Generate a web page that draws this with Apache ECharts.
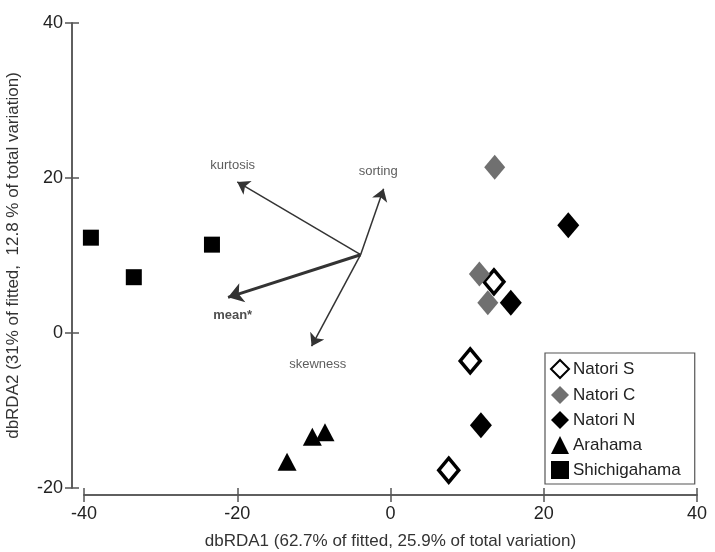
<!DOCTYPE html>
<html><head><meta charset="utf-8">
<script src="https://cdn.jsdelivr.net/npm/echarts@6/dist/echarts.min.js"></script>
<style>html,body{margin:0;padding:0;background:#fff}#c{width:715px;height:552px}</style>
</head><body><div id="c"></div>
<script>
var xTicks = [-40, -20, 0, 20, 40];
var yTicks = [-20, 0, 20, 40];
var natoriS = [[13.5, 6.6], [10.4, -3.6], [7.6, -17.7]];
var natoriC = [[13.6, 21.4], [11.6, 7.6], [12.7, 3.9]];
var natoriN = [[23.2, 13.9], [15.7, 3.9], [11.8, -11.9]];
var arahama = [[-13.5, -16.6], [-10.2, -13.4], [-8.55, -12.8]];
var shichigahama = [[-39.1, 12.3], [-33.5, 7.2], [-23.3, 11.4]];
var arrowOrigin = [-3.9, 10.1];
var arrowNames = ['kurtosis', 'sorting', 'mean*', 'skewness'];
var arrowTips = [[-20.0, 19.5], [-0.9, 18.6], [-21.2, 4.6], [-10.3, -1.7]];
var arrowLabelPos = [[-20.6, 21.6], [-1.6, 20.8], [-20.6, 2.3], [-9.5, -4.0]];

var font = 'Liberation Sans, Arial, sans-serif';
var axisCol = '#555';
function baseX(extra) {
  return Object.assign({
    type: 'value', min: -40, max: 40, interval: 20, position: 'bottom', offset: 7,
    axisLine: {show: true, onZero: false, lineStyle: {color: axisCol, width: 1.5}},
    splitLine: {show: false}
  }, extra);
}
function baseY(extra) {
  return Object.assign({
    type: 'value', min: -20, max: 40, interval: 20, position: 'left', offset: 12,
    axisLine: {show: true, onZero: false, lineStyle: {color: axisCol, width: 1.5}},
    splitLine: {show: false}
  }, extra);
}
var chart = echarts.init(document.getElementById('c'));
chart.setOption({
  animation: false,
  backgroundColor: '#fff',
  grid: {left: 84, right: 18, top: 23, bottom: 64, containLabel: false, outerBoundsMode: 'none'},
  xAxis: [
    baseX({
      name: 'dbRDA1 (62.7% of fitted, 25.9% of total variation)', nameLocation: 'middle', nameGap: 38,
      nameTextStyle: {fontFamily: font, fontSize: 17, color: '#333'},
      axisTick: {show: true, length: 7, lineStyle: {color: axisCol, width: 1.5}},
      axisLabel: {fontFamily: font, fontSize: 18, color: '#222', margin: 10,
        formatter: function (v) { return xTicks.indexOf(v) >= 0 ? String(v) : ''; }}
    }),
    baseX({
      axisTick: {show: true, inside: true, length: 7, lineStyle: {color: axisCol, width: 1.5}},
      axisLabel: {show: false}
    })
  ],
  yAxis: [
    baseY({
      name: 'dbRDA2 (31% of fitted,  12.8 % of total variation)', nameLocation: 'middle', nameGap: 50,
      nameTextStyle: {fontFamily: font, fontSize: 17, color: '#333'},
      axisTick: {show: true, length: 7, lineStyle: {color: axisCol, width: 1.5}},
      axisLabel: {fontFamily: font, fontSize: 18, color: '#222', margin: 9,
        formatter: function (v) { return yTicks.indexOf(v) >= 0 ? String(v) : ''; }}
    }),
    baseY({
      axisTick: {show: true, inside: true, length: 7, lineStyle: {color: axisCol, width: 1.5}},
      axisLabel: {show: false}
    })
  ],
  legend: {
    orient: 'vertical', left: 545, top: 353,
    padding: [6, 14, 5, 5], itemGap: 7, itemWidth: 18, itemHeight: 18,
    borderColor: '#555', borderWidth: 1.2, backgroundColor: '#fff',
    textStyle: {fontFamily: font, fontSize: 17, color: '#222', padding: [0, 0, 0, -1]},
    data: ['Natori S', 'Natori C', 'Natori N', 'Arahama', 'Shichigahama']
  },
  series: [
    {
      type: 'lines', coordinateSystem: 'cartesian2d', silent: true, z: 1,
      symbol: ['none', 'arrow'], symbolSize: 12,
      lineStyle: {color: '#333', width: 1.5, opacity: 1},
      data: arrowTips.map(function (t, i) {
        return {coords: [arrowOrigin, t], lineStyle: {width: arrowNames[i] === 'mean*' ? 3 : 1.5},
          symbolSize: arrowNames[i] === 'mean*' ? 15 : 12};
      })
    },
    {
      type: 'scatter', silent: true, symbolSize: 0, z: 2,
      label: {show: true, position: 'inside', formatter: '{b}', fontFamily: font, fontSize: 13, color: '#333'},
      data: arrowLabelPos.map(function (p, i) {
        return {name: arrowNames[i], value: p,
          label: arrowNames[i] === 'mean*' ? {fontWeight: 'bold', color: '#222'} : {}};
      })
    },
    {name: 'Natori S', type: 'scatter', symbol: 'diamond', symbolSize: [20, 24], z: 3,
      itemStyle: {color: '#fff', borderColor: '#000', borderWidth: 3.5, opacity: 1}, data: natoriS},
    {name: 'Natori C', type: 'scatter', symbol: 'diamond', symbolSize: [21, 25], z: 3,
      itemStyle: {color: '#707070', opacity: 1}, data: natoriC},
    {name: 'Natori N', type: 'scatter', symbol: 'diamond', symbolSize: [22, 26], z: 3,
      itemStyle: {color: '#000', opacity: 1}, data: natoriN},
    {name: 'Arahama', type: 'scatter', symbol: 'triangle', symbolSize: [19, 18], z: 3,
      itemStyle: {color: '#000', opacity: 1}, data: arahama},
    {name: 'Shichigahama', type: 'scatter', symbol: 'rect', symbolSize: 16, z: 3,
      itemStyle: {color: '#000', opacity: 1}, data: shichigahama}
  ]
});
</script></body></html>
